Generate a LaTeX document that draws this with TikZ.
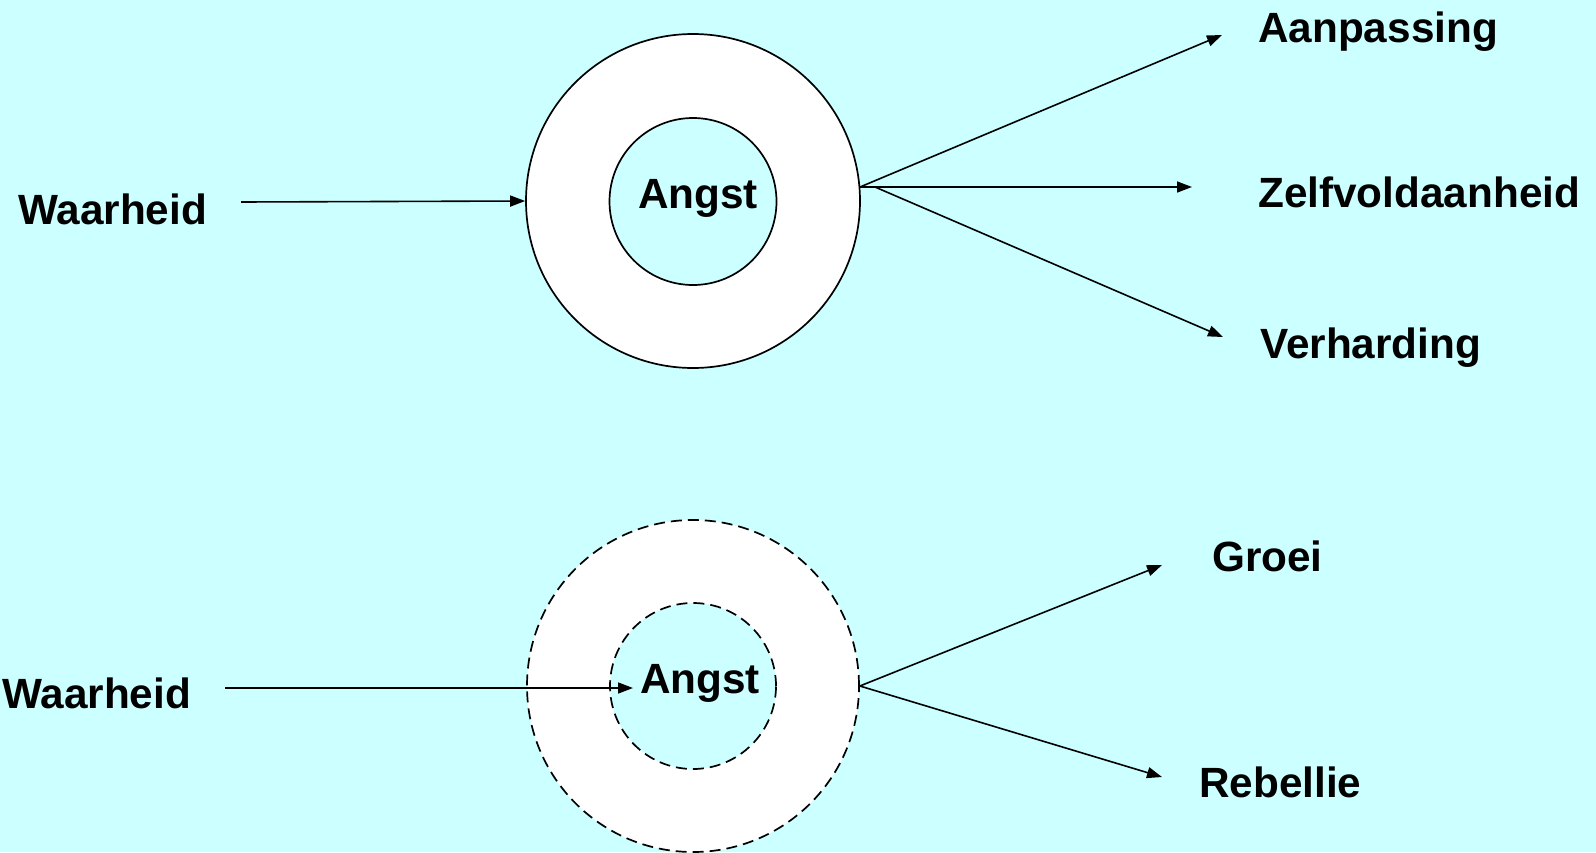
\documentclass[tikz,border=0pt]{standalone}
\usepackage{fontspec}
\setmainfont{Liberation Sans}
\usetikzlibrary{arrows.meta}
\definecolor{bg}{RGB}{204,255,255}
\begin{document}
\begin{tikzpicture}[x=1pt,y=-1pt,
  lbl/.style={anchor=base west,inner sep=0pt,font=\fontsize{42.3}{50}\selectfont\bfseries},
  ring/.style={circle,draw=black,line width=1.7pt,inner sep=0pt},
  dashring/.style={ring,dash pattern=on 11pt off 6pt},
  arr/.style={line width=1.6pt,-{Triangle[length=15pt,width=11pt]}},
  ln/.style={line width=1.6pt}]
\fill[bg] (0,0) rectangle (1596,852);
\useasboundingbox (0,0) rectangle (1596,852);
% top
\node[ring,fill=white,minimum size=334pt] (o1) at (693,201) {};
\node[ring,fill=bg,minimum size=167pt] (i1) at (693,201.5) {};
\node[lbl] (a1) at (638,208) {Angst};
\node[lbl] (w1) at (18,224) {Waarheid};
\node[lbl] (aan) at (1258,42) {Aanpassing};
\node[lbl] (zel) at (1258,207) {Zelfvoldaanheid};
\node[lbl] (ver) at (1260,358) {Verharding};
\coordinate (w1s) at (241,202);
\coordinate (f1) at (860,187);
\coordinate (f1b) at (875,187);
\coordinate (taan) at (1222,35);
\coordinate (tzel) at (1192,187);
\coordinate (tver) at (1223,337);
\draw[arr] (w1s) -- (o1.west);
\draw[arr] (f1) -- (taan);
\draw[arr] (f1) -- (tzel);
\draw[arr] (f1b) -- (tver);
% bottom
\node[dashring,fill=white,minimum size=332pt] (o2) at (693,686) {};
\node[dashring,fill=bg,minimum size=166pt] (i2) at (693,686) {};
\node[lbl] (a2) at (640,693) {Angst};
\node[lbl] (w2) at (2,708) {Waarheid};
\node[lbl] (gro) at (1212,571) {Groei};
\node[lbl] (reb) at (1199,797) {Rebellie};
\coordinate (w2s) at (225,688);
\coordinate (w2t) at (633,688);
\coordinate (tgro) at (1162,565);
\coordinate (treb) at (1162,777);
\draw[arr] (w2s) -- (w2t);
\draw[arr] (o2.east) -- (tgro);
\draw[arr] (o2.east) -- (treb);
\end{tikzpicture}
\end{document}
